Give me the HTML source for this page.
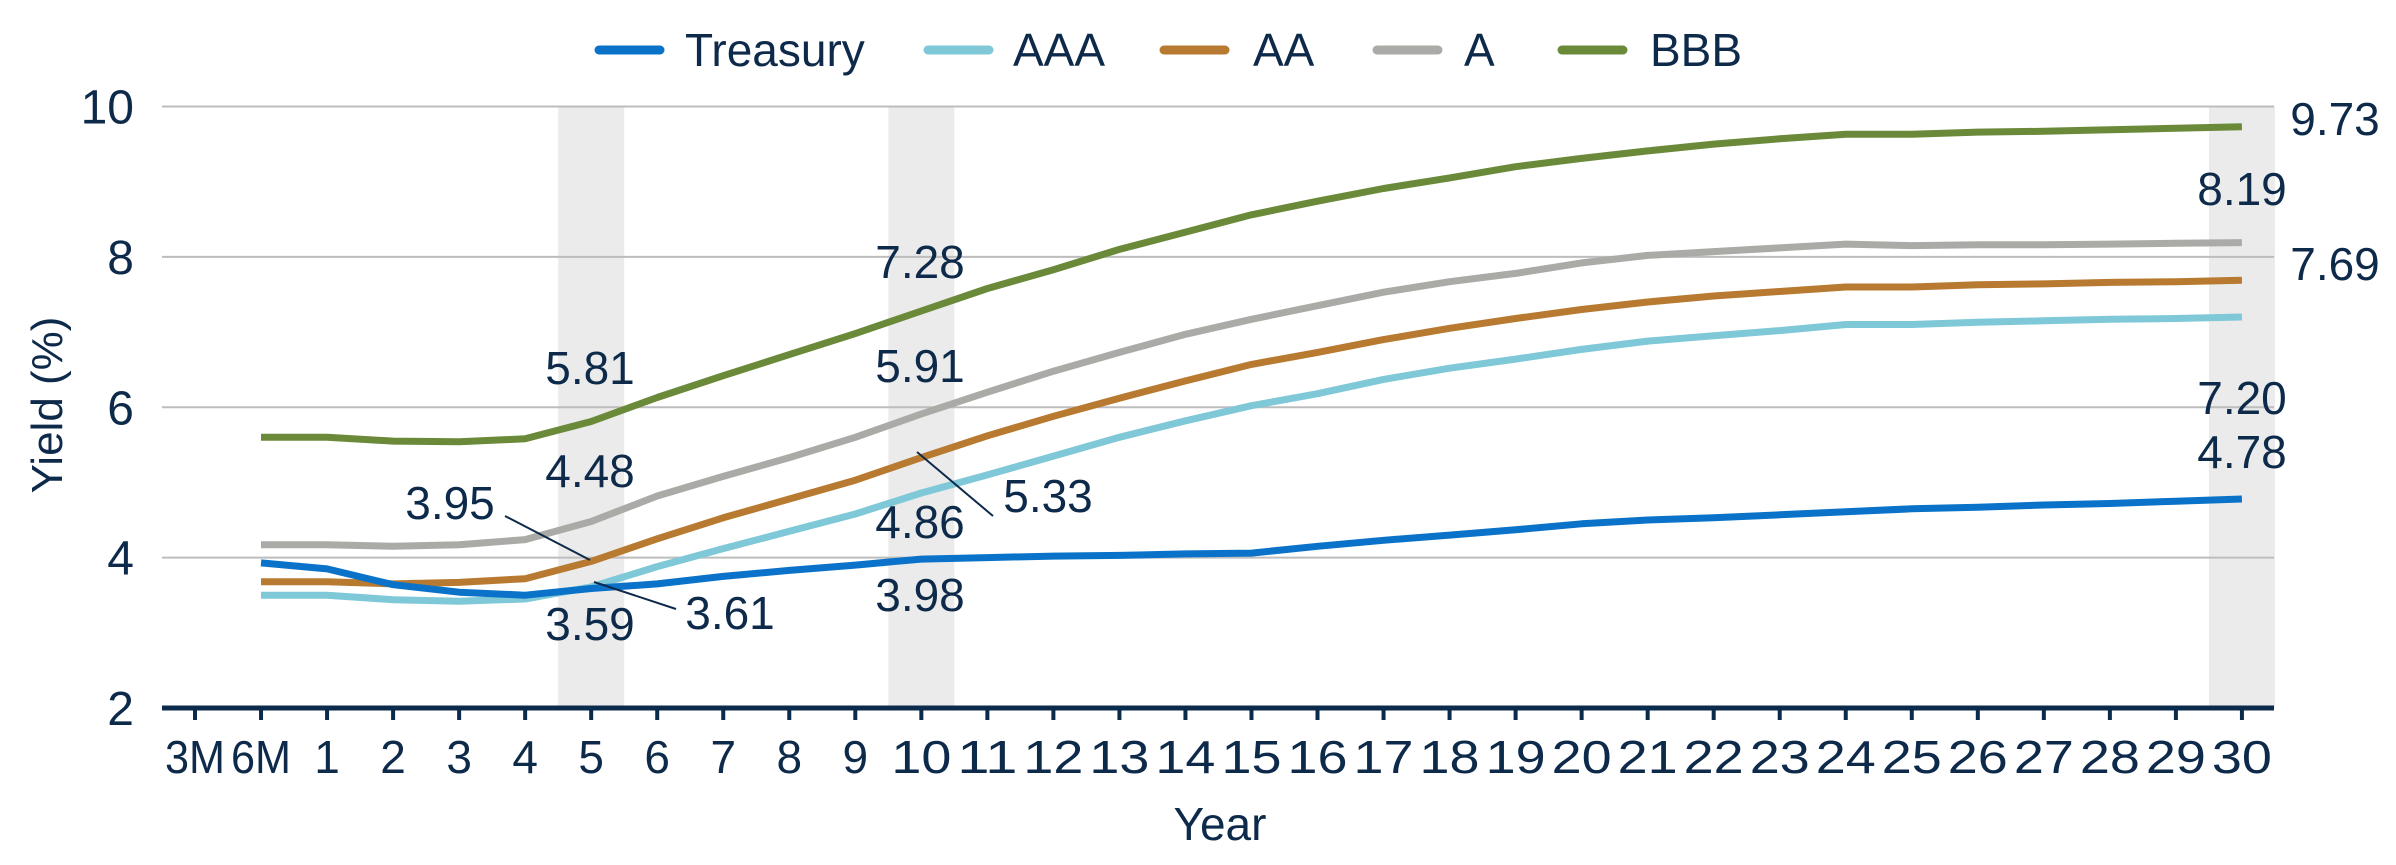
<!DOCTYPE html>
<html><head><meta charset="utf-8"><style>
html,body{margin:0;padding:0;background:#fff;}
svg{display:block;font-family:"Liberation Sans",sans-serif;}
</style></head><body>
<svg id="chart" width="2396" height="865" viewBox="0 0 2396 865"></svg>
<script>
const categories=["3M","6M","1","2","3","4","5","6","7","8","9","10","11","12","13","14","15","16","17","18","19","20","21","22","23","24","25","26","27","28","29","30"];
const seriesNames=["Treasury","AAA","AA","A","BBB"];
const seriesColors=["#0a73c9","#7ec8d8","#b87a30","#aaaaa6","#6a8a3a"];
const treasury=[null,3.93,3.85,3.64,3.54,3.50,3.59,3.65,3.75,3.83,3.90,3.98,4.00,4.02,4.03,4.05,4.06,4.15,4.23,4.30,4.37,4.45,4.50,4.53,4.57,4.61,4.65,4.67,4.70,4.72,4.75,4.78];
const aaa=[null,3.50,3.50,3.44,3.42,3.45,3.61,3.88,4.12,4.35,4.58,4.86,5.10,5.35,5.60,5.82,6.02,6.18,6.37,6.52,6.64,6.77,6.88,6.95,7.02,7.10,7.10,7.13,7.15,7.17,7.18,7.20];
const aa=[null,3.68,3.68,3.65,3.67,3.72,3.95,4.25,4.53,4.78,5.03,5.33,5.62,5.88,6.12,6.35,6.57,6.73,6.90,7.05,7.18,7.30,7.40,7.48,7.54,7.60,7.60,7.63,7.64,7.66,7.67,7.69];
const aRated=[null,4.17,4.17,4.15,4.17,4.24,4.48,4.82,5.08,5.33,5.60,5.91,6.20,6.48,6.73,6.97,7.17,7.35,7.53,7.67,7.78,7.92,8.02,8.07,8.12,8.17,8.15,8.16,8.16,8.17,8.18,8.19];
const bbb=[null,5.60,5.60,5.55,5.54,5.58,5.81,6.13,6.42,6.70,6.98,7.28,7.58,7.83,8.10,8.33,8.56,8.74,8.91,9.05,9.20,9.31,9.41,9.50,9.57,9.63,9.63,9.66,9.67,9.69,9.71,9.73];
const yTicks=[2,4,6,8,10];
const highlightCats=["5","10","30"];
// annotations: [category, value-text, dx, dy(px offset from category x / label y)]
const annotations=[["30","9.73",2335,135],["30","8.19",2242,205],["30","7.69",2335,280],["30","7.20",2242,414],["30","4.78",2242,468],["10","7.28",920,278],["10","5.91",920,382],["10","4.86",920,538],["10","3.98",920,611],["5","5.81",590,384],["5","4.48",590,487],["5","3.95",450,519],["5","3.59",590,640],["5","3.61",730,629],["10","5.33",1048,512]];
const leaders=[[505,516,590,560],[594,582,676,609],[917,452,993,516]];

const NS="http://www.w3.org/2000/svg";
const svg=document.getElementById('chart');
const X0=195,STEP=66.03,Y2=708,Y10=106.5;
function xs(i){return X0+i*STEP;}
function ys(v){return Y2-(v-2)*(Y2-Y10)/8;}
function mk(t,attrs,parent){const e=document.createElementNS(NS,t);for(const k in attrs)e.setAttribute(k,attrs[k]);(parent||svg).appendChild(e);return e;}
const TXT="#0e2a4a";
// bands
highlightCats.forEach(c=>{const i=categories.indexOf(c);
 const r=mk('rect',{x:xs(i)-STEP/2,y:Y10,width:STEP,height:Y2-Y10,fill:'#ebebeb'});
 
 });
// gridlines and y labels
yTicks.forEach(v=>{
 if(v>2){const l=mk('line',{x1:162,x2:2274,y1:ys(v),y2:ys(v),stroke:'#bdbdbd','stroke-width':2});
 
 }
 const t=mk('text',{x:134,y:ys(v)+17,'text-anchor':'end','font-size':48,fill:TXT});t.textContent=v;
 
 });
// axis
const ax=mk('line',{x1:162,x2:2274,y1:Y2,y2:Y2,stroke:'#0b2b4d','stroke-width':5});


categories.forEach((c,i)=>{
 const tk=mk('line',{x1:xs(i),x2:xs(i),y1:Y2,y2:Y2+12,stroke:'#0b2b4d','stroke-width':4});
 
 
 const t=mk('text',{x:xs(i),y:773,'text-anchor':'middle','font-size':46,fill:TXT,textLength:c.length>1?60:null});
 if(c.length<=1)t.removeAttribute('textLength'); else t.setAttribute('lengthAdjust','spacingAndGlyphs');
 t.textContent=c;
 
 });
// series
const allSeries=[treasury,aaa,aa,aRated,bbb];
[4,3,2,1,0].forEach(s=>{
 const d=allSeries[s].map((v,i)=>v==null?null:[xs(i),ys(v)]).filter(p=>p).map((p,k)=>(k?'L':'M')+p[0].toFixed(1)+' '+p[1].toFixed(1)).join(' ');
 const p=mk('path',{d:d,fill:'none',stroke:seriesColors[s],'stroke-width':7,'stroke-linejoin':'round'});
 
 });
// leaders
leaders.forEach(l=>{const e=mk('line',{x1:l[0],y1:l[1],x2:l[2],y2:l[3],stroke:'#0e2a4a','stroke-width':2});
 
 });
// annotations
annotations.forEach(a=>{const t=mk('text',{x:a[2],y:a[3],'text-anchor':'middle','font-size':46,fill:TXT});t.textContent=a[1];
 
 });
// legend
const legX=[[599,685],[928,1013],[1164,1253],[1377,1464],[1562,1650]];
seriesNames.forEach((n,s)=>{
 const g=mk('g',{});
 
 
 mk('line',{x1:legX[s][0],x2:legX[s][0]+61,y1:50,y2:50,stroke:seriesColors[s],'stroke-width':9,'stroke-linecap':'round'},g);
 const t=mk('text',{x:legX[s][1],y:66,'font-size':46,fill:TXT},g);t.textContent=n;});
// axis titles
const yt=mk('text',{x:0,y:0,transform:'translate(62,405) rotate(-90)','text-anchor':'middle','font-size':44,fill:TXT});yt.textContent='Yield (%)';


const xt=mk('text',{x:1220,y:840,'text-anchor':'middle','font-size':46,fill:TXT});xt.textContent='Year';


</script>
</body></html>
